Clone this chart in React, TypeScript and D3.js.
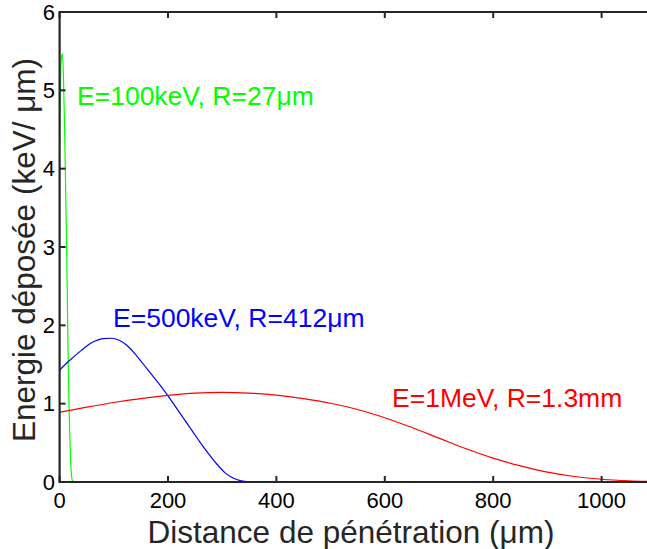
import React from "react";
import * as d3 from "d3";

const xTicks = [0, 200, 400, 600, 800, 1000];
const yTicks = [0, 1, 2, 3, 4, 5, 6];

const greenX = [0, 1, 2, 3, 5, 7, 9, 10, 11.5, 13, 14, 15, 16.5, 17.5, 19, 20.5, 22, 23.5, 27];
const greenY = [4.24, 4.8, 5.2, 5.4, 5.47, 5.2, 4.6, 4.2, 3.6, 3.0, 2.5, 1.95, 1.3, 0.95, 0.55, 0.25, 0.08, 0.02, 0];

const blueX = [0, 20, 40, 60, 80, 95, 110, 125, 140, 155, 170, 185, 200, 215, 230, 245, 260, 275, 290, 305, 320, 335, 350, 365, 412];
const blueY = [1.43, 1.56, 1.68, 1.78, 1.83, 1.835, 1.81, 1.74, 1.63, 1.5, 1.37, 1.24, 1.1, 0.95, 0.8, 0.65, 0.5, 0.36, 0.23, 0.12, 0.05, 0.015, 0.003, 0, 0];

const redX = [0, 50, 100, 150, 200, 250, 300, 350, 400, 450, 500, 550, 600, 650, 700, 750, 800, 850, 900, 950, 1000, 1050, 1100];
const redY = [0.89, 0.955, 1.015, 1.065, 1.105, 1.135, 1.145, 1.135, 1.11, 1.065, 1.005, 0.925, 0.82, 0.695, 0.56, 0.425, 0.305, 0.205, 0.125, 0.07, 0.035, 0.015, 0.005];

const labels = [
  { text: "E=100keV, R=27μm", color: "#00ff00", x: 77, y: 105 },
  { text: "E=500keV, R=412μm", color: "#0000ff", x: 113, y: 327 },
  { text: "E=1MeV, R=1.3mm", color: "#ff0000", x: 392, y: 407 },
];

const W = 647;
const H = 549;
const font = "'Liberation Sans', Arial, Helvetica, sans-serif";

export default function App() {
  const x = d3.scaleLinear().domain([0, 1100]).range([59.6, 655.8]);
  const y = d3.scaleLinear().domain([0, 6]).range([482, 12]);
  const line = d3
    .line<[number, number]>()
    .x((d) => x(d[0]))
    .y((d) => y(d[1]))
    .curve(d3.curveMonotoneX);
  const series = [
    { xs: greenX, ys: greenY, color: "#00ff00" },
    { xs: blueX, ys: blueY, color: "#0000ff" },
    { xs: redX, ys: redY, color: "#ff0000" },
  ];
  const axisColor = "#262626";
  return (
    <svg
      width={W}
      height={H}
      style={{ position: "absolute", left: 0, top: 0, background: "#fff" }}
      fontFamily={font}
    >
      <defs>
        <clipPath id="plotclip">
          <rect x={x(0)} y={y(6)} width={x(1100) - x(0)} height={y(0) - y(6)} />
        </clipPath>
      </defs>
      <g clipPath="url(#plotclip)">
        {series.map((s, i) => (
          <path
            key={i}
            d={line(s.xs.map((v, j) => [v, s.ys[j]] as [number, number])) || ""}
            fill="none"
            stroke={s.color}
            strokeWidth={1.2}
          />
        ))}
      </g>
      <line x1={x(0)} x2={x(1100)} y1={y(0)} y2={y(0)} stroke={axisColor} strokeWidth={2.2} />
      <line x1={x(0)} x2={x(1100)} y1={y(6)} y2={y(6)} stroke={axisColor} strokeWidth={2.2} />
      <line x1={x(0)} x2={x(0)} y1={y(0) + 1.1} y2={y(6) - 1.1} stroke={axisColor} strokeWidth={2.2} />
      {xTicks.map((t) => (
        <g key={"x" + t}>
          <line x1={x(t)} x2={x(t)} y1={y(0)} y2={y(0) - 6} stroke={axisColor} strokeWidth={2} />
          <line x1={x(t)} x2={x(t)} y1={y(6)} y2={y(6) + 6} stroke={axisColor} strokeWidth={2} />
          <text x={x(t)} y={508} textAnchor="middle" fontSize={22} fill="#000">
            {t}
          </text>
        </g>
      ))}
      {yTicks.map((t) => (
        <g key={"y" + t}>
          <line x1={x(0)} x2={x(0) + 6} y1={y(t)} y2={y(t)} stroke={axisColor} strokeWidth={2} />
          <text x={55} y={y(t) + 7.5} textAnchor="end" fontSize={22} fill="#000">
            {t}
          </text>
        </g>
      ))}
      {labels.map((l, i) => (
        <text key={i} x={l.x} y={l.y} fontSize={26.5} fill={l.color}>
          {l.text}
        </text>
      ))}
      <text x={351} y={543} textAnchor="middle" fontSize={31.5} fill="#262626">
        Distance de pénétration (μm)
      </text>
      <text
        transform="translate(35,250) rotate(-90)"
        textAnchor="middle"
        fontSize={31.5}
        fill="#262626"
      >
        Energie déposée (keV/ μm)
      </text>
    </svg>
  );
}
